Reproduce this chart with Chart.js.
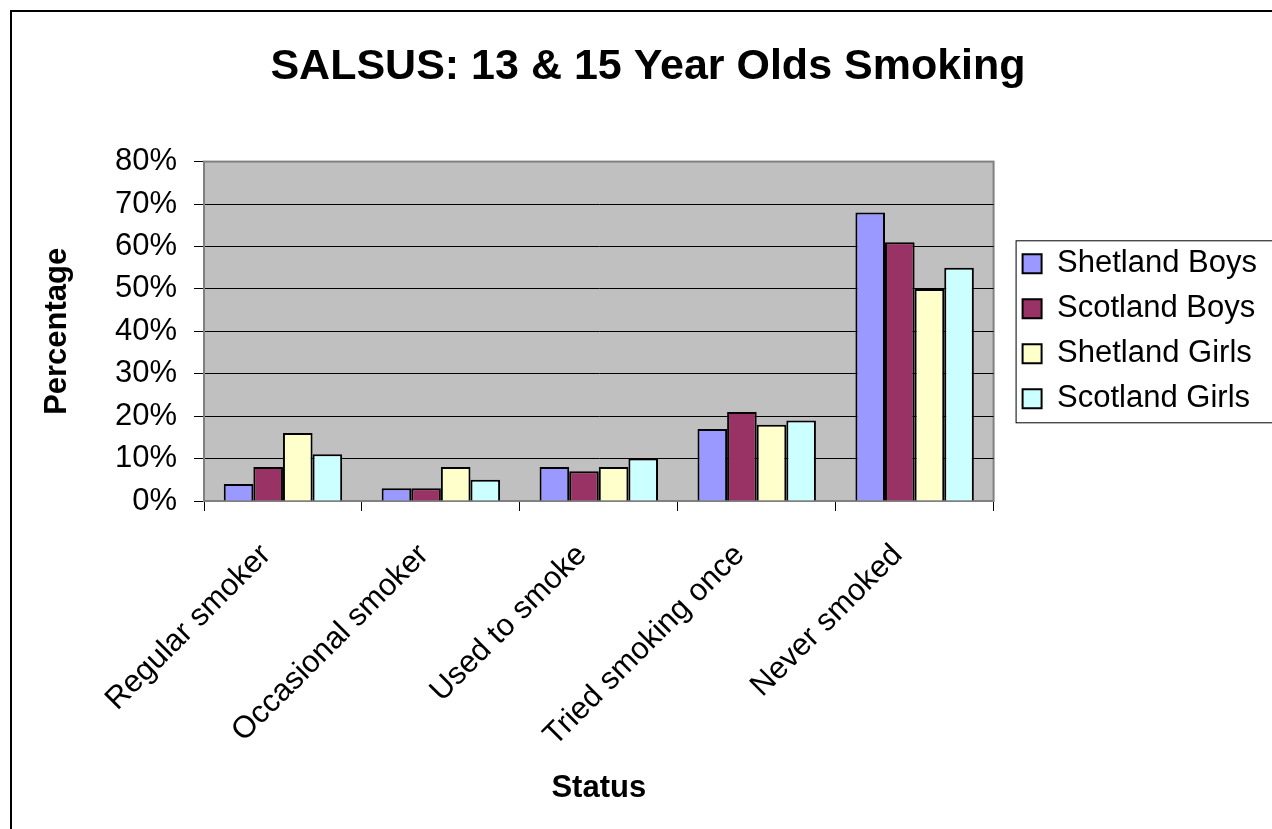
<!DOCTYPE html>
<html lang="en">
<head>
<meta charset="UTF-8">
<title>SALSUS: 13 &amp; 15 Year Olds Smoking</title>
<script src="https://cdn.jsdelivr.net/npm/chart.js@4.4.1/dist/chart.umd.min.js"></script>
<style>
  html, body { margin: 0; padding: 0; background: #fff; overflow: hidden; }
  #wrap { position: relative; width: 1272px; height: 829px; }
</style>
</head>
<body>
<div id="wrap"><canvas id="grafico" width="1272" height="829"></canvas></div>

<script>
// values (percent)
var categorias = ['Regular smoker', 'Occasional smoker', 'Used to smoke', 'Tried smoking once', 'Never smoked'];
var shetlandBoys  = [4, 3, 8, 17, 68];
var scotlandBoys  = [8, 3, 7, 21, 61];
var shetlandGirls = [16, 8, 8, 18, 50];
var scotlandGirls = [11, 5, 10, 19, 55];
var nomesSeries = ['Shetland Boys', 'Scotland Boys', 'Shetland Girls', 'Scotland Girls'];
var yMin = 0, yMax = 80, yPasso = 10;

var fonte = "'Liberation Sans', Arial, sans-serif";
Chart.defaults.font.family = fonte;
Chart.defaults.color = '#000';

// excel-ish gray plot area, outer frame and the legend box
var moldura = {
  id: 'moldura',
  beforeDraw: function (chart) {
    var c = chart.ctx, a = chart.chartArea;
    c.save();
    c.fillStyle = '#fff';
    c.fillRect(0, 0, chart.width, chart.height);
    c.strokeStyle = '#000';
    c.lineWidth = 2;
    c.strokeRect(11, 11, chart.width + 40, chart.height + 40);
    c.fillStyle = '#c0c0c0';
    c.fillRect(a.left, a.top, a.right - a.left, a.bottom - a.top);
    c.strokeStyle = '#808080';
    c.lineWidth = 2;
    c.strokeRect(a.left, a.top, a.right - a.left, a.bottom - a.top);
    c.restore();
  },
  afterLayout: function (chart) {
    // push the legend a bit away from the plot, title a bit right
    var lg = chart.legend;
    lg.left += 15;
    lg.right += 15;
    var t = chart.titleBlock;
    t.left += 16;
    t.right += 16;
  },
  afterDraw: function (chart) {
    var lg = chart.legend, hb = lg.legendHitBoxes;
    if (!hb || !hb.length) return;
    var c = chart.ctx;
    var topo = hb[0].top - 8;
    var fim = hb[hb.length - 1].top + hb[hb.length - 1].height + 8;
    c.save();
    c.strokeStyle = '#000';
    c.lineWidth = 1;
    c.strokeRect(lg.left + 7.5, topo + 0.5, 400, fim - topo);
    c.restore();
  }
};

var cores = ['#9999ff', '#993366', '#ffffcc', '#ccffff'];
var valores = [shetlandBoys, scotlandBoys, shetlandGirls, scotlandGirls];

var ctx = document.getElementById('grafico').getContext('2d');
var grafico = new Chart(ctx, {
  type: 'bar',
  data: {
    labels: categorias,
    datasets: nomesSeries.map(function (nome, i) {
      return {
        label: nome,
        data: valores[i],
        backgroundColor: cores[i],
        borderColor: '#000',
        borderWidth: 2,
        categoryPercentage: 0.75,
        barPercentage: 1
      };
    })
  },
  options: {
    responsive: false,
    animation: false,
    layout: { padding: { left: 12, right: 20, top: 0, bottom: 0 } },
    plugins: {
      title: {
        display: true,
        text: 'SALSUS: 13 & 15 Year Olds Smoking',
        font: { size: 43, weight: 'bold' },
        color: '#000',
        padding: { top: 41, bottom: 69 }
      },
      legend: {
        position: 'right',
        align: 'center',
        fullSize: false,
        labels: {
          boxWidth: 19,
          boxHeight: 19,
          padding: 14,
          color: '#000',
          font: { size: 31 }
        }
      },
      tooltip: { enabled: false }
    },
    scales: {
      x: {
        offset: true,
        grid: { offset: true, drawOnChartArea: false, tickLength: 10, color: '#000' },
        border: { color: '#808080', width: 2 },
        ticks: { minRotation: 45, maxRotation: 45, padding: 26, labelOffset: -17, color: '#000', font: { size: 31 } },
        title: {
          display: true,
          text: 'Status',
          color: '#000',
          font: { size: 31, weight: 'bold' },
          padding: { top: 0, bottom: 22 }
        },
        afterFit: function (s) { s.height = 328; }
      },
      y: {
        min: yMin,
        max: yMax,
        grid: {
          color: function (c) { return c.tick && c.tick.value === yMax ? '#808080' : '#000'; },
          tickColor: '#000',
          tickLength: 10,
          lineWidth: 1
        },
        border: { color: '#808080', width: 2 },
        ticks: {
          stepSize: yPasso,
          padding: 17,
          color: '#000',
          font: { size: 31 },
          callback: function (v) { return v + '%'; }
        },
        title: {
          display: true,
          text: 'Percentage',
          color: '#000',
          font: { size: 31, weight: 'bold' },
          padding: { top: 27, bottom: 0 }
        },
        afterFit: function (s) { s.width = 192; }
      }
    }
  },
  plugins: [moldura]
});
</script>
</body>
</html>
